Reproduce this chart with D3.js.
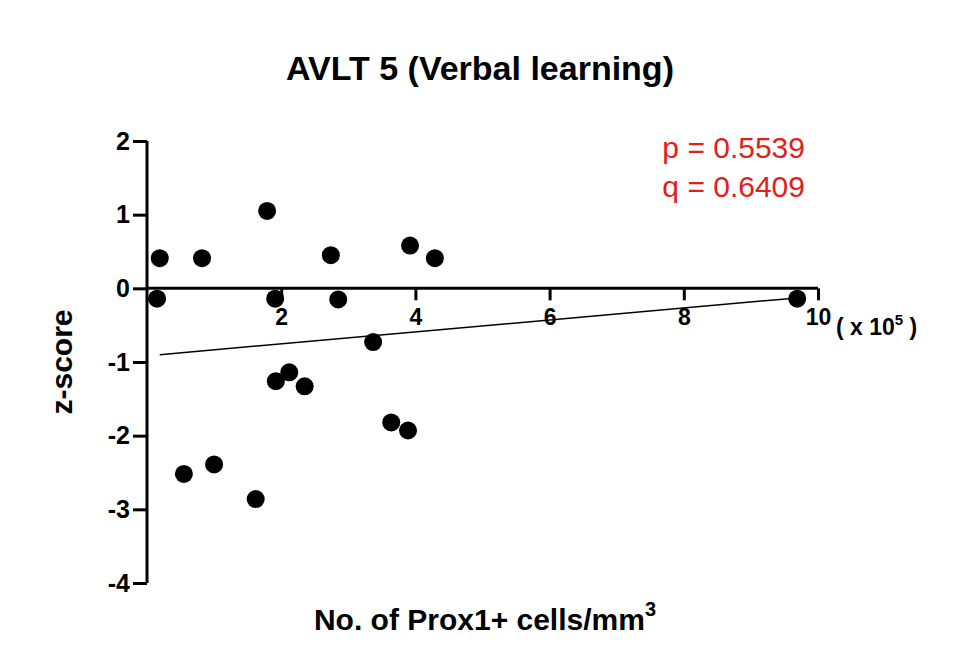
<!DOCTYPE html>
<html><head><meta charset="utf-8">
<script src="https://cdn.jsdelivr.net/npm/d3@7"></script>
<style>body{margin:0;background:#fff}text{font-family:"Liberation Sans",Arial,sans-serif}</style>
</head><body><svg id="chart" width="953" height="662"></svg>
<script>
// data (x in units of 10^5 cells/mm3)
var xVals = [0.19, 0.15, 0.82, 1.79, 1.91, 2.74, 2.85, 3.92, 4.29, 3.37, 1.92, 2.12, 2.35, 3.64, 3.89, 0.55, 1.0, 1.62, 9.69];
var yVals = [0.41, -0.14, 0.41, 1.05, -0.14, 0.45, -0.15, 0.58, 0.41, -0.73, -1.26, -1.14, -1.33, -1.82, -1.93, -2.52, -2.39, -2.86, -0.14];
var fitX = [0.19, 9.69];
var fitY = [-0.90, -0.13];
var xTicks = [2, 4, 6, 8, 10];
var yTicks = [2, 1, 0, -1, -2, -3, -4];

var svg = d3.select("#chart");
var x = d3.scaleLinear().domain([0, 10]).range([147, 818]);
var y = d3.scaleLinear().domain([-4, 2]).range([583, 141]);

// title
svg.append("text").attr("x", 480).attr("y", 80).attr("text-anchor", "middle")
    .style("font-size", "34px").style("font-weight", "bold").text("AVLT 5 (Verbal learning)");

// y axis
var yAxis = svg.append("g").attr("transform", "translate(147,0)")
    .call(d3.axisLeft(y).tickValues(yTicks).tickFormat((d) => String(d)).tickSize(14).tickPadding(3));
yAxis.select(".domain").attr("stroke-width", 3).attr("d", "M0," + y(-4) + "V" + y(2));
yAxis.selectAll(".tick line").attr("stroke-width", 3);
yAxis.selectAll("text").style("font-size", "25px").style("font-weight", "bold")
    .style("font-family", "Liberation Sans, Arial, sans-serif");

// x axis at y = 0
var xAxis = svg.append("g").attr("transform", "translate(0," + y(0) + ")")
    .call(d3.axisBottom(x).tickValues(xTicks).tickFormat((d) => String(d)).tickSize(12).tickPadding(8));
xAxis.select(".domain").attr("stroke-width", 3).attr("d", "M147,0H" + x(10));
xAxis.selectAll(".tick line").attr("stroke-width", 3);
xAxis.selectAll("text").style("font-size", "23px").style("font-weight", "bold")
    .style("font-family", "Liberation Sans, Arial, sans-serif");

svg.append("text").attr("x", 836).attr("y", 335).style("font-size", "23px").style("font-weight", "bold")
    .html('( x 10<tspan dy="-10" style="font-size:15px">5</tspan><tspan dy="10"> )</tspan>');

// regression line
svg.append("line").attr("x1", x(fitX[0])).attr("y1", y(fitY[0]))
    .attr("x2", x(fitX[1])).attr("y2", y(fitY[1])).attr("stroke", "#000").attr("stroke-width", 1.5);

// points
svg.selectAll("circle.pt").data(xVals).enter().append("circle")
    .attr("cx", (d) => x(d)).attr("cy", (d, i) => y(yVals[i])).attr("r", 9).attr("fill", "#000");

// stats
svg.append("text").attr("x", 805).attr("y", 158).attr("text-anchor", "end").attr("fill", "#e0201b")
    .style("font-size", "30px").text("p = 0.5539");
svg.append("text").attr("x", 805).attr("y", 197).attr("text-anchor", "end").attr("fill", "#e0201b")
    .style("font-size", "30px").text("q = 0.6409");

// axis titles
svg.append("text").attr("transform", "translate(72,362) rotate(-90)").attr("text-anchor", "middle")
    .style("font-size", "30px").style("font-weight", "bold").text("z-score");
svg.append("text").attr("x", 485).attr("y", 630).attr("text-anchor", "middle")
    .style("font-size", "30px").style("font-weight", "bold")
    .html('No. of Prox1+ cells/mm<tspan dy="-14" style="font-size:20px">3</tspan>');
</script></body></html>
